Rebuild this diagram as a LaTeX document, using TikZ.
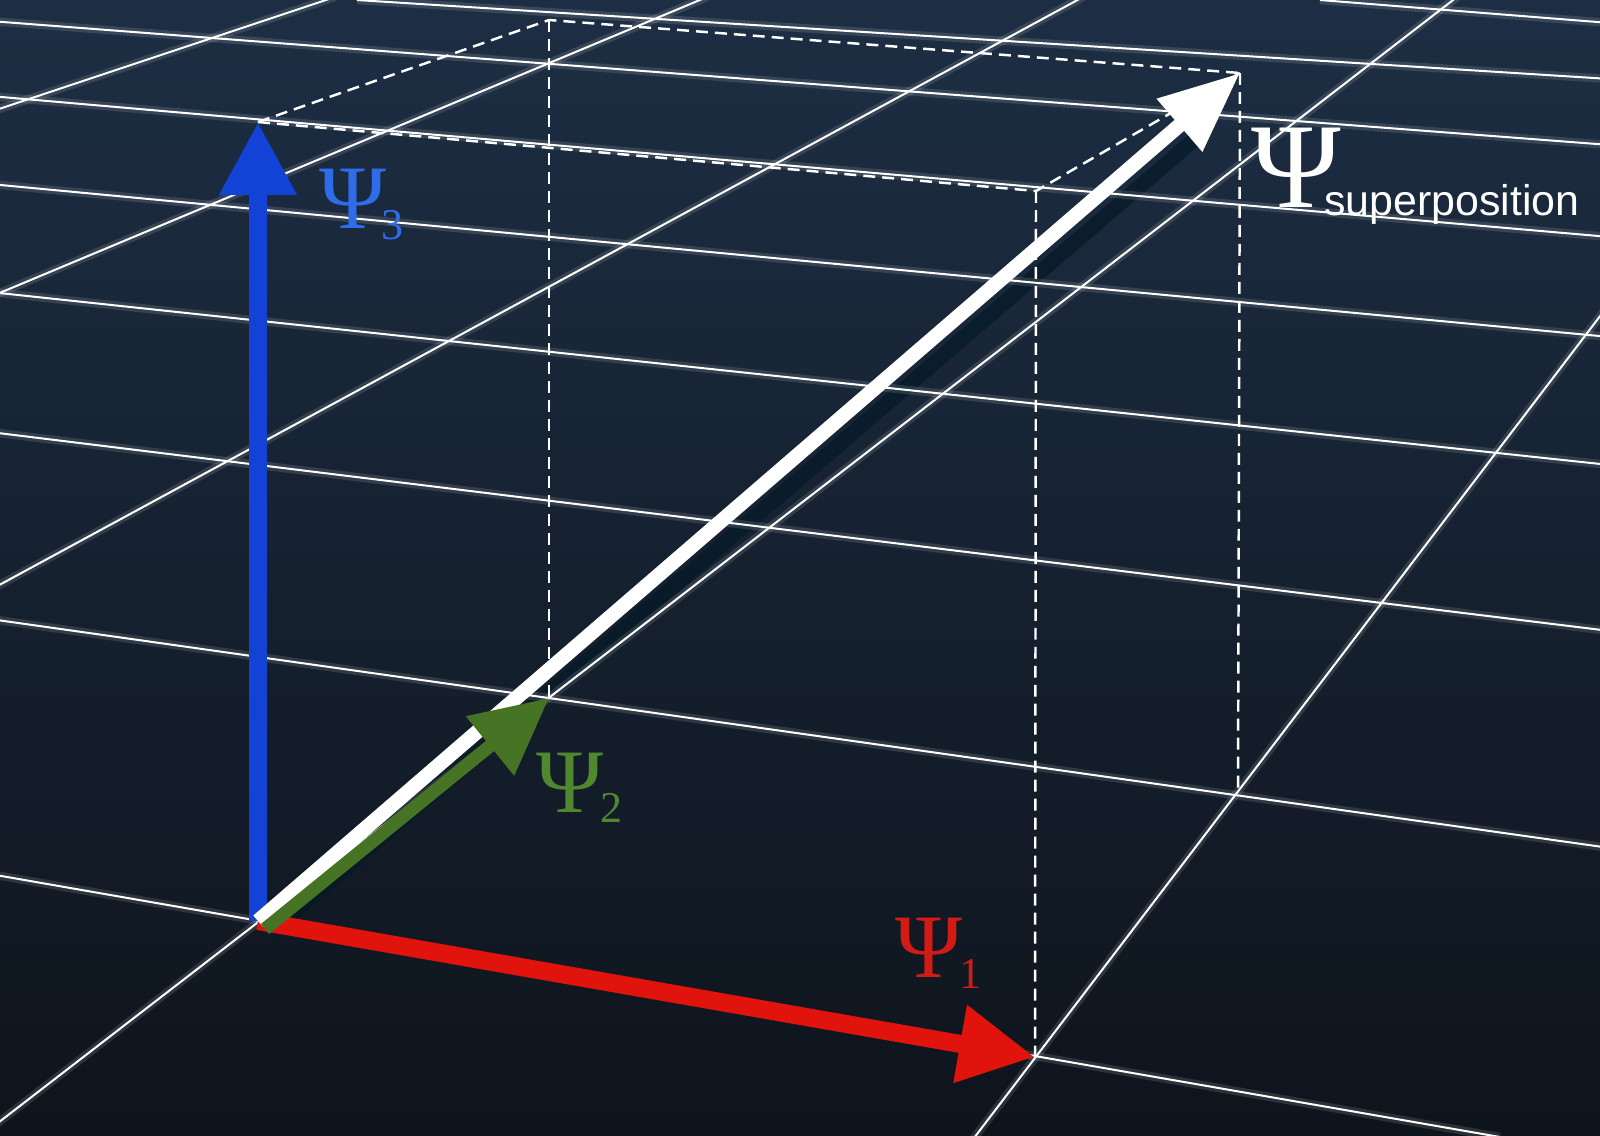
\documentclass[tikz,border=0pt]{standalone}
\usepackage{fontspec}
\setmainfont{Liberation Serif}
\newfontfamily\subsans{Liberation Sans}
\usepackage{tikz}
\usetikzlibrary{arrows.meta}

\definecolor{bgtop}{RGB}{29,46,68}
\definecolor{bgbottom}{RGB}{14,20,28}
\definecolor{vecblue}{RGB}{18,66,214}
\definecolor{labblue}{RGB}{46,108,232}
\definecolor{vecgreen}{RGB}{70,116,36}
\definecolor{labgreen}{RGB}{80,136,48}
\definecolor{vecred}{RGB}{224,20,12}
\definecolor{labred}{RGB}{212,26,20}
\definecolor{shadowblue}{RGB}{6,26,40}

% Psi with a lowered subscript: #1 subscript, #2 kern, #3 drop
\newcommand{\psilabel}[3]{{\fontsize{25.8}{26}\selectfont Ψ}\kern#2\raisebox{#3}{\fontsize{12.5}{13}\selectfont #1}}

\begin{document}
\begin{tikzpicture}[
  x=0.01cm, y=-0.01cm,
  gridline/.style={white,line width=0.57pt,preaction={draw,white,opacity=0.12,line width=2.4pt}},
  boxline/.style={white,line width=0.7pt,dash pattern=on 3.4pt off 2pt},
  shadowline/.style={shadowblue,opacity=0.75,line width=0.15cm},
  redvec/.style={vecred,line width=0.18cm,-{Triangle[length=0.76cm,width=0.74cm]}},
  bluevec/.style={vecblue,line width=0.17cm,-{Triangle[length=0.73cm,width=0.73cm]}},
  greenvec/.style={vecgreen,line width=0.13cm,-{Triangle[length=0.76cm,width=0.73cm]}},
  whitevec/.style={white,line width=0.145cm,-{Triangle[length=0.8cm,width=0.66cm]}},
  psilab/.style={anchor=base west,inner sep=0pt}
]

\useasboundingbox (0,0) rectangle (1600,1135);
\shade[top color=bgtop,bottom color=bgbottom] (0,0) rectangle (1600,1135);

% ---- points of the picture ----
\coordinate (O) at (258,921);
\coordinate (tipone) at (1035,1057);
\coordinate (tiptwo) at (549,698);
\coordinate (tipthree) at (258,122);
\coordinate (tipsup) at (1240,73);
\coordinate (boxQ) at (549,20);
\coordinate (boxR) at (1036,191);
\coordinate (footS) at (1238,792);

\begin{scope}
\clip (0,0) rectangle (1600,1135);

% shadow of the superposition vector
\draw[shadowline] ([shift={(12,12)}]O) -- ([shift={(-45,66)}]tipsup);

% ---- floor grid ----
\draw[gridline] (1320,0) -- (1610,23);
\draw[gridline] (357,0) -- (1610,79);
\draw[gridline] (-10,21) -- (1610,145);
\draw[gridline] (-10,96) -- (1610,237);
\draw[gridline] (-10,184) -- (1610,337);
\draw[gridline] (-10,292) -- (1610,465);
\draw[gridline] (-10,432) -- (1610,631);
\draw[gridline] (-10,619) -- (1610,848);
\draw[gridline] (-10,874) -- (1500,1137);
\draw[gridline] (-10,112) -- (335,-3);
\draw[gridline] (-10,297) -- (707,-3);
\draw[gridline] (-10,590) -- (1083,-3);
\draw[gridline] (-10,1129) -- (1457,-3);
\draw[gridline] (974,1138) -- (1610,303);
\end{scope}

% ---- dashed box ----
\draw[boxline] (tipthree) -- (boxQ) -- (tipsup);
\draw[boxline] (tipthree) -- (boxR) -- (tipsup);
\draw[boxline] (boxQ) -- (tiptwo);
\draw[boxline] (boxR) -- (tipone);
\draw[boxline] (tipsup) -- (footS);

% ---- vectors ----
\draw[redvec] (O) -- (tipone);
\draw[bluevec] (O) -- (tipthree);
\draw[whitevec] (O) -- (tipsup);
\draw[greenvec] ([shift={(7,8)}]O) -- (tiptwo);

% ---- labels ----
\node[psilab,text=labblue] (labthree) at (319,228) {\psilabel{3}{-0.05cm}{-0.11cm}};
\node[psilab,text=labgreen] (labtwo) at (536,812) {\psilabel{2}{-0.03cm}{-0.1cm}};
\node[psilab,text=labred] (labone) at (895,977) {\psilabel{1}{-0.03cm}{-0.11cm}};
\node[psilab,text=white] (labsup) at (1251,207)
  {{\fontsize{34.5}{35}\selectfont Ψ}\kern-0.17cm\raisebox{-0.08cm}{\subsans\fontsize{12.2}{13}\selectfont superposition}};

\end{tikzpicture}
\end{document}
